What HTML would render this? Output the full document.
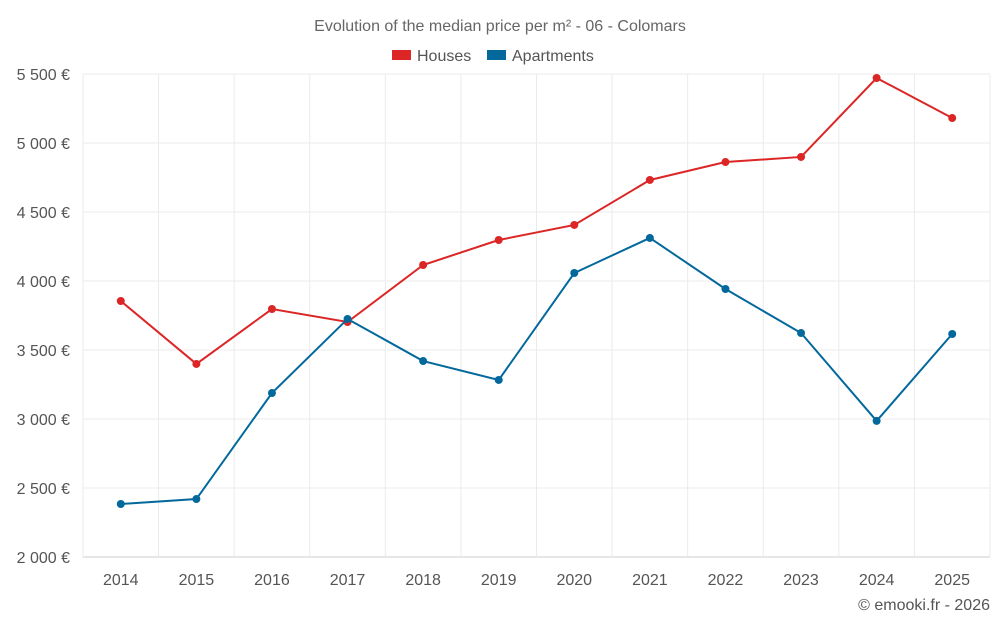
<!DOCTYPE html>
<html><head><meta charset="utf-8"><style>
body{margin:0;background:#fff;font-family:"Liberation Sans",sans-serif}
svg text{font-family:"Liberation Sans",sans-serif}
</style></head><body>
<svg id="c" width="1000" height="625">
<text x="500" y="31" text-anchor="middle" font-size="16" fill="#666">Evolution of the median price per m² - 06 - Colomars</text>
<g>
<g><rect x="392" y="50" width="19" height="10" fill="#dc2626"/><text x="417" y="61" font-size="16" fill="#555">Houses</text></g>
<g><rect x="487" y="50" width="19" height="10" fill="#03689c"/><text x="512" y="61" font-size="16" fill="#555">Apartments</text></g>
</g>
<g id="grid"></g><g id="axes"></g><g id="series"></g>
<text x="990" y="610" text-anchor="end" font-size="16" fill="#555">© emooki.fr - 2026</text>
</svg>
<script>
const years=["2014","2015","2016","2017","2018","2019","2020","2021","2022","2023","2024","2025"];
const houses=[3855,3399,3797,3703,4116,4297,4406,4732,4862,4899,5471,5181];
const apartments=[2384,2420,3188,3725,3420,3283,4058,4312,3942,3623,2986,3616];
const yTicks=[2000,2500,3000,3500,4000,4500,5000,5500];
const yLabels=["2 000 €","2 500 €","3 000 €","3 500 €","4 000 €","4 500 €","5 000 €","5 500 €"];
const NS="http://www.w3.org/2000/svg";
const L=83,R=990,T=74,B=557,ymin=2000,ymax=5500;
const bw=(R-L)/years.length;
const x=i=>L+bw*(i+0.5);
const y=v=>B-(v-ymin)/(ymax-ymin)*(B-T);
function mk(t,a,p){const e=document.createElementNS(NS,t);for(const k in a)e.setAttribute(k,a[k]);p.appendChild(e);return e;}
const g=document.getElementById('grid'),ax=document.getElementById('axes'),s=document.getElementById('series');
yTicks.forEach((v,i)=>{
 const l=mk('line',{x1:L,x2:R,y1:y(v),y2:y(v),stroke:i==0?'#ccc':'#ebebeb'},g);
 
 
 const t=mk('text',{x:70,y:y(v)+6,'text-anchor':'end','font-size':16,fill:'#555'},ax);
 t.textContent=yLabels[i];
 
 
});
for(let i=0;i<=years.length;i++){
 const l=mk('line',{x1:L+bw*i,x2:L+bw*i,y1:T,y2:B,stroke:'#ebebeb'},g);
 
 
}
years.forEach((yr,i)=>{
 const t=mk('text',{x:x(i),y:585,'text-anchor':'middle','font-size':16,fill:'#555'},ax);
 t.textContent=yr;
 
 
});
function draw(data,color,name){
 const p=mk('polyline',{points:data.map((v,i)=>x(i)+','+y(v)).join(' '),fill:'none',stroke:color,'stroke-width':2},s);
 
 
 data.forEach((v,i)=>{
  const c=mk('circle',{cx:x(i),cy:y(v),r:4,fill:color},s);
  
  
 });
}
draw(houses,'#dc2626','houses');
draw(apartments,'#03689c','apartments');
</script>
</body></html>
